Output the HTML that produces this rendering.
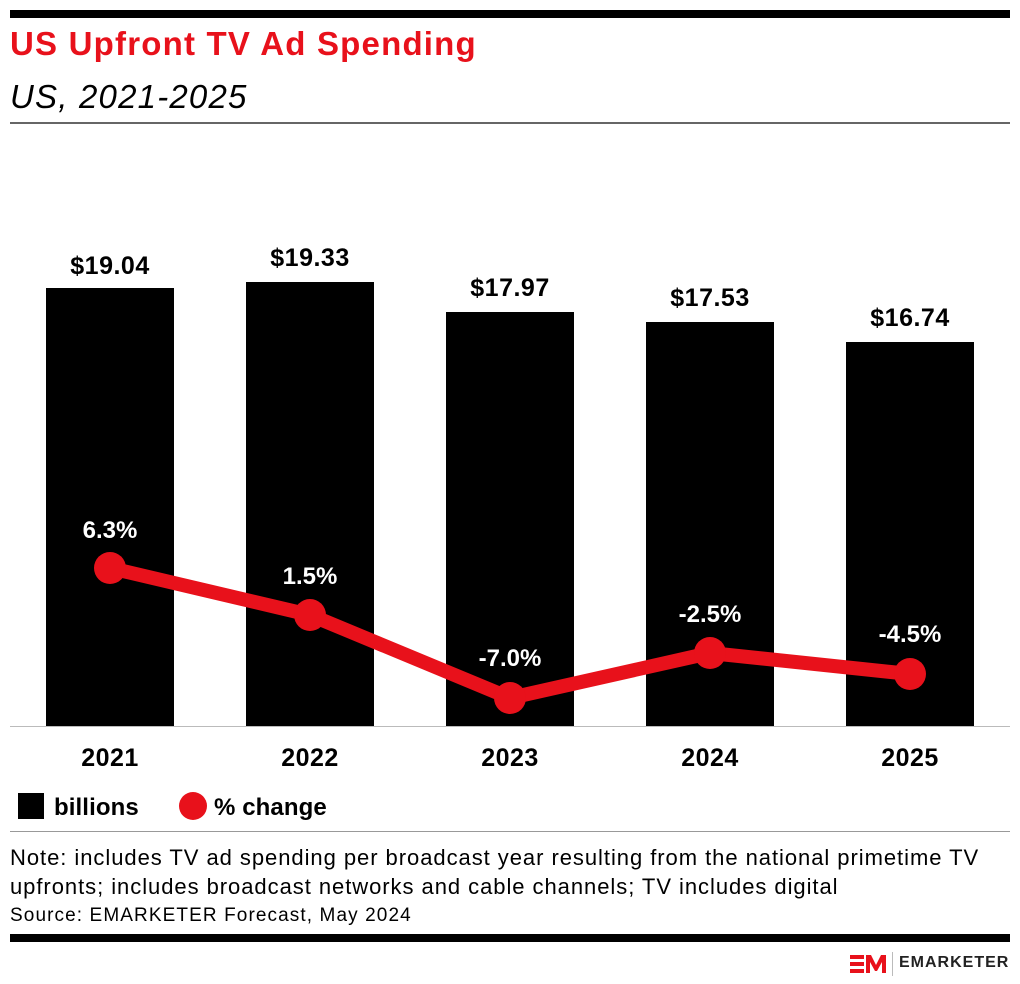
<!DOCTYPE html>
<html><head><meta charset="utf-8"><style>
body{margin:0;width:1020px;height:984px;background:#fff;font-family:"Liberation Sans",sans-serif;position:relative;overflow:hidden}
div{position:absolute;white-space:nowrap}
</style></head><body>
<div style="left:10px;top:10px;width:1000px;height:8px;background:#000"></div>
<div style="left:10px;top:25px;font-size:33px;font-weight:bold;color:#e8111b;letter-spacing:1.2px">US Upfront TV Ad Spending</div>
<div style="left:10px;top:78px;font-size:33px;font-style:italic;color:#000;letter-spacing:1.2px">US, 2021-2025</div>
<div style="left:10px;top:122px;width:1000px;height:2px;background:#666"></div>
<svg style="position:absolute;left:0;top:0" width="1020" height="984">
<g fill="#000">
<rect x="46" y="288" width="128" height="438"/>
<rect x="246" y="282" width="128" height="444"/>
<rect x="446" y="312" width="128" height="414"/>
<rect x="646" y="322" width="128" height="404"/>
<rect x="846" y="342" width="128" height="384"/>
</g>
<line x1="10" y1="726.5" x2="1010" y2="726.5" stroke="#bbb" stroke-width="1"/>
<g font-family="Liberation Sans" font-weight="bold" font-size="25" text-anchor="middle" fill="#000" letter-spacing="0.5">
<text x="110" y="274">$19.04</text><text x="310" y="266">$19.33</text><text x="510" y="296">$17.97</text><text x="710" y="306">$17.53</text><text x="910" y="326">$16.74</text>
<text x="110" y="766">2021</text><text x="310" y="766">2022</text><text x="510" y="766">2023</text><text x="710" y="766">2024</text><text x="910" y="766">2025</text>
</g>
<polyline points="110,568 310,615 510,698 710,653 910,674" fill="none" stroke="#e8111b" stroke-width="14" stroke-linejoin="round"/>
<g fill="#e8111b"><circle cx="110" cy="568" r="16"/><circle cx="310" cy="615" r="16"/><circle cx="510" cy="698" r="16"/><circle cx="710" cy="653" r="16"/><circle cx="910" cy="674" r="16"/></g>
<g font-family="Liberation Sans" font-weight="bold" font-size="24" text-anchor="middle" fill="#fff">
<text x="110" y="538">6.3%</text><text x="310" y="584">1.5%</text><text x="510" y="666">-7.0%</text><text x="710" y="622">-2.5%</text><text x="910" y="642">-4.5%</text>
</g>
<rect x="18" y="793" width="26" height="26" fill="#000"/>
<circle cx="193" cy="806" r="14" fill="#e8111b"/>
<g font-family="Liberation Sans" font-weight="bold" font-size="24" fill="#000" letter-spacing="0.1">
<text x="54" y="815">billions</text><text x="214" y="815">% change</text></g>
</svg>
<div style="left:10px;top:831px;width:1000px;height:1px;background:#999"></div>
<div style="left:10px;top:843px;font-size:22px;line-height:29px;color:#000;letter-spacing:0.95px">Note: includes TV ad spending per broadcast year resulting from the national primetime TV<br>upfronts; includes broadcast networks and cable channels; TV includes digital</div>
<div style="left:10px;top:905px;font-size:19px;color:#000;letter-spacing:1.1px">Source: EMARKETER Forecast, May 2024</div>
<div style="left:10px;top:934px;width:1000px;height:8px;background:#000"></div>
<svg style="position:absolute;left:848px;top:952px" width="40" height="24"><g fill="#e8111b"><rect x="2" y="3" width="14" height="4"/><rect x="2" y="10" width="14" height="4"/><rect x="2" y="17" width="14" height="4"/><polygon points="18,21 18,3 23,3 28,13 33,3 38,3 38,21 34,21 34,10 29,19 27,19 22,10 22,21"/></g></svg>
<div style="left:892px;top:952px;width:1px;height:24px;background:#bbb"></div>
<div style="left:899px;top:954px;font-size:16px;font-weight:bold;letter-spacing:1px;color:#222">EMARKETER</div>
</body></html>
